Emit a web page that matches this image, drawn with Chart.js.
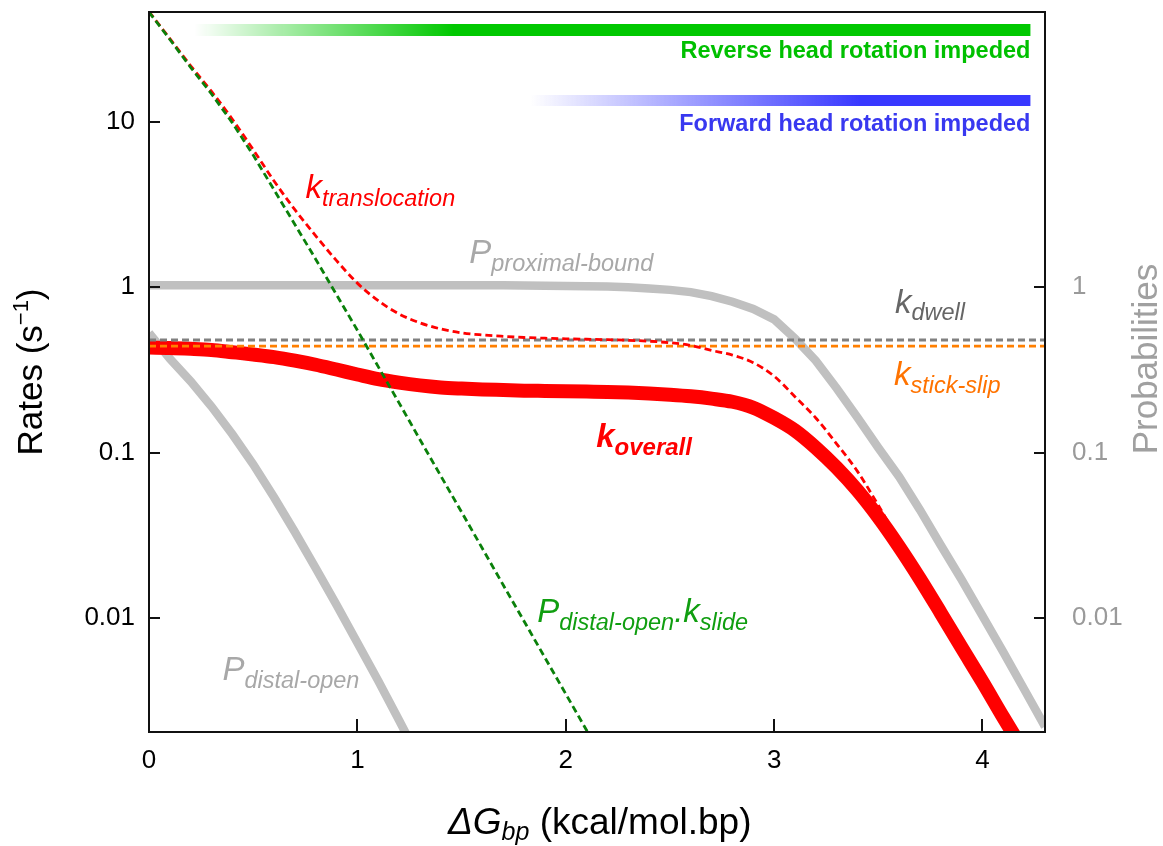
<!DOCTYPE html>
<html>
<head>
<meta charset="utf-8">
<script src="https://cdn.jsdelivr.net/npm/chart.js@4.4.1/dist/chart.umd.min.js"></script>
<style>
  html, body { margin: 0; padding: 0; background: #fff; }
  #wrap { width: 1163px; height: 846px; }
</style>
</head>
<body>
<div id="wrap"><canvas id="chart" width="1163" height="846"></canvas></div>
<script>
// x values: ΔG_bp (kcal/mol.bp)
const dG = [0, 0.1, 0.2, 0.3, 0.4, 0.5, 0.6, 0.7, 0.8, 0.9,
  1.0, 1.1, 1.2, 1.3, 1.4, 1.5, 1.6, 1.7, 1.8, 1.9,
  2.0, 2.1, 2.2, 2.3, 2.4, 2.5, 2.6, 2.7, 2.8, 2.9,
  3.0, 3.1, 3.2, 3.3, 3.4, 3.5, 3.6, 3.7, 3.8, 3.9,
  4.0, 4.1, 4.2, 4.3];

// rates (s^-1)
const kOverall = [0.432, 0.43, 0.425, 0.418, 0.405, 0.392, 0.378, 0.36, 0.34, 0.318,
  0.297, 0.278, 0.265, 0.255, 0.248, 0.244, 0.241, 0.239, 0.237, 0.236,
  0.235, 0.234, 0.233, 0.231, 0.228, 0.224, 0.219, 0.212, 0.203, 0.187,
  0.162, 0.136, 0.107, 0.081, 0.0589, 0.0407, 0.0269, 0.0172, 0.0107, 0.0066,
  0.0041, 0.0025, 0.00155, 0.00095];

const kTranslocation = [46.5, 32.0, 21.9, 15.3, 10.4, 6.8, 4.4, 2.95, 2.05, 1.45,
  1.06, 0.83, 0.69, 0.61, 0.56, 0.53, 0.515, 0.505, 0.497, 0.492,
  0.488, 0.485, 0.482, 0.478, 0.472, 0.462, 0.445, 0.415, 0.389, 0.35,
  0.29, 0.218, 0.162, 0.113, 0.077, 0.048, 0.029, 0.0178, 0.0109, 0.0067,
  0.0041, 0.0025, 0.00155, 0.00095];

// P_distal-open * k_slide, from 0 to 2.2
const pDistalKSlide = [46.2, 31.6, 21.4, 14.8, 9.89, 6.31, 3.89, 2.40, 1.48, 0.902,
  0.550, 0.331, 0.200, 0.120, 0.0724, 0.0437, 0.0263, 0.0158, 0.00955, 0.00575,
  0.00347, 0.00209, 0.00126];

const kDwellX = [0, 4.3];
const kDwell = [0.48, 0.48];
const kStickSlip = [0.441, 0.441];

// probabilities
const pProximalBound = [1.03, 1.03, 1.03, 1.03, 1.03, 1.03, 1.03, 1.03, 1.03, 1.03,
  1.03, 1.03, 1.03, 1.03, 1.03, 1.03, 1.03, 1.028, 1.025, 1.022,
  1.02, 1.015, 1.01, 1.0, 0.985, 0.965, 0.935, 0.885, 0.818, 0.74,
  0.64, 0.49, 0.36, 0.245, 0.163, 0.107, 0.0715, 0.045, 0.0275, 0.017,
  0.0103, 0.0062, 0.0037, 0.0022];

// P_distal-open, from 0 to 1.3
const pDistalOpen = [0.53, 0.37, 0.27, 0.19, 0.129, 0.085, 0.0537, 0.0331, 0.0200, 0.0120,
  0.00708, 0.00417, 0.0024, 0.00138];

const xTicks = [0, 1, 2, 3, 4];
const yTicks = [10, 1, 0.1, 0.01];
const y2Ticks = [1, 0.1, 0.01];
const yRange = [0.00204, 46.3];

// top bars: [fade start, full colour, end] in ΔG units
const reverseBar = [0.22, 1.46, 4.23];
const forwardBar = [1.83, 3.41, 4.23];

const FF = '"Liberation Sans", Arial, Helvetica, sans-serif';

const pts = (ys, xs = dG) => ys.map((y, i) => ({ x: xs[i], y }));

// text labels placed in data coordinates
const labels = [
  { x: 0.751, y: 3.47, parts: [['k', 'italic 33px', '#ff0000', 0], ['translocation', 'italic 23.5px', '#ff0000', 8]] },
  { x: 1.537, y: 1.403, parts: [['P', 'italic 33px', '#a8a8a8', 0], ['proximal-bound', 'italic 23.5px', '#a8a8a8', 8]] },
  { x: 3.58, y: 0.70, parts: [['k', 'italic 33px', '#666666', 0], ['dwell', 'italic 23.5px', '#666666', 7]] },
  { x: 3.575, y: 0.2564, parts: [['k', 'italic 33px', '#ff7300', 0], ['stick-slip', 'italic 23.5px', '#ff7300', 8]] },
  { x: 2.146, y: 0.108, parts: [['k', 'italic bold 33px', '#ff0000', 0], ['overall', 'italic bold 24px', '#ff0000', 8]] },
  { x: 1.863, y: 0.00944, parts: [['P', 'italic 33px', '#109e10', 0], ['distal-open', 'italic 23.5px', '#109e10', 8],
      ['.', 'italic 33px', '#109e10', 0], ['k', 'italic 33px', '#109e10', 0], ['slide', 'italic 23.5px', '#109e10', 8]] },
  { x: 0.3525, y: 0.00422, parts: [['P', 'italic 33px', '#a8a8a8', 0], ['distal-open', 'italic 23.5px', '#a8a8a8', 8]] }
];

function drawParts(ctx, x, y, parts) {
  let cx = x;
  for (const [t, f, c, dy] of parts) {
    ctx.font = f + ' ' + FF;
    ctx.fillStyle = c;
    ctx.fillText(t, cx, y + dy);
    cx += ctx.measureText(t).width;
  }
  return cx - x;
}

const decor = {
  id: 'decor',
  afterDraw(chart) {
    const ctx = chart.ctx;
    const a = chart.chartArea;
    const sx = chart.scales.x, sy = chart.scales.y, sy2 = chart.scales.y2;
    ctx.save();

    // gradient bars
    function bar(def, rgb, y0, h) {
      const x0 = sx.getPixelForValue(def[0]);
      const x1 = sx.getPixelForValue(def[1]);
      const x2 = sx.getPixelForValue(def[2]);
      const g = ctx.createLinearGradient(x0, 0, x1, 0);
      g.addColorStop(0, 'rgba(' + rgb + ',0)');
      g.addColorStop(1, 'rgba(' + rgb + ',1)');
      ctx.fillStyle = g;
      ctx.fillRect(x0, y0, x2 - x0, h);
      return x2;
    }
    const gEnd = bar(reverseBar, '0,200,0', a.top + 12, 12);
    const bEnd = bar(forwardBar, '56,56,255', a.top + 83, 11);
    ctx.textAlign = 'right';
    ctx.textBaseline = 'alphabetic';
    ctx.font = 'bold 23.5px ' + FF;
    ctx.fillStyle = '#00c000';
    ctx.fillText('Reverse head rotation impeded', gEnd, a.top + 46);
    ctx.fillStyle = '#3838f0';
    ctx.fillText('Forward head rotation impeded', bEnd, a.top + 119);

    // curve labels
    ctx.textAlign = 'left';
    for (const l of labels) {
      drawParts(ctx, sx.getPixelForValue(l.x), sy.getPixelForValue(l.y), l.parts);
    }

    // frame and inward ticks
    ctx.strokeStyle = '#111';
    ctx.lineWidth = 2;
    ctx.strokeRect(a.left, a.top, a.right - a.left, a.bottom - a.top);
    ctx.beginPath();
    for (const v of yTicks) {
      const p = Math.round(sy.getPixelForValue(v));
      ctx.moveTo(a.left, p); ctx.lineTo(a.left + 11, p);
    }
    for (const v of y2Ticks) {
      const p = Math.round(sy2.getPixelForValue(v));
      ctx.moveTo(a.right, p); ctx.lineTo(a.right - 11, p);
    }
    for (const v of xTicks) {
      if (v === 0) continue;
      const p = Math.round(sx.getPixelForValue(v));
      ctx.moveTo(p, a.bottom); ctx.lineTo(p, a.bottom - 13);
    }
    ctx.stroke();

    // axis titles
    ctx.save();
    ctx.translate(42, (a.top + a.bottom) / 2);
    ctx.rotate(-Math.PI / 2);
    ctx.font = '35px ' + FF;
    const w1 = ctx.measureText('Rates (s').width;
    ctx.font = '22px ' + FF;
    const w2 = ctx.measureText('\u22121').width;
    ctx.font = '35px ' + FF;
    const w3 = ctx.measureText(')').width;
    let cx = -(w1 + w2 + w3) / 2;
    ctx.fillStyle = '#000';
    ctx.fillText('Rates (s', cx, 0);
    cx += w1;
    ctx.font = '22px ' + FF;
    ctx.fillText('\u22121', cx, -14);
    cx += w2;
    ctx.font = '35px ' + FF;
    ctx.fillText(')', cx, 0);
    ctx.restore();

    ctx.save();
    ctx.translate(1157, (a.top + a.bottom) / 2 - 13);
    ctx.rotate(-Math.PI / 2);
    ctx.font = '35px ' + FF;
    ctx.fillStyle = '#a0a0a0';
    ctx.textAlign = 'center';
    ctx.fillText('Probabilities', 0, 0);
    ctx.restore();

    drawParts(ctx, 448, 834, [['\u0394G', 'italic 37px', '#000', 0], ['bp', 'italic 25px', '#000', 6],
      [' (kcal/mol.bp)', '37px', '#000', 0]]);

    ctx.restore();
  }
};

const tickFont = { family: FF, size: 26 };

new Chart(document.getElementById('chart'), {
  type: 'line',
  data: {
    datasets: [
      { label: 'P_distal-open k_slide', data: pts(pDistalKSlide), borderColor: '#0a800a', borderWidth: 2.8, borderDash: [7, 4], order: 0 },
      { label: 'k_translocation', data: pts(kTranslocation), borderColor: '#ff0000', borderWidth: 2.8, borderDash: [7, 4],
        cubicInterpolationMode: 'monotone', order: 1 },
      { label: 'k_dwell', data: pts(kDwell, kDwellX), borderColor: '#808080', borderWidth: 2.8, borderDash: [7, 4], order: 2 },
      { label: 'k_stick-slip', data: pts(kStickSlip, kDwellX), borderColor: '#ff7f00', borderWidth: 2.8, borderDash: [7, 4], order: 3 },
      { label: 'k_overall', data: pts(kOverall), borderColor: '#ff0000', borderWidth: 14, borderJoinStyle: 'round',
        cubicInterpolationMode: 'monotone', order: 4 },
      { label: 'P_proximal-bound', data: pts(pProximalBound), yAxisID: 'y2', borderColor: '#c0c0c0', borderWidth: 8.5, order: 5 },
      { label: 'P_distal-open', data: pts(pDistalOpen), yAxisID: 'y2', borderColor: '#c0c0c0', borderWidth: 8.5, order: 6 }
    ]
  },
  options: {
    responsive: false,
    animation: false,
    layout: { padding: { top: 12, left: 0, right: 0, bottom: 0 } },
    plugins: { legend: { display: false }, tooltip: { enabled: false } },
    elements: { point: { radius: 0 }, line: { tension: 0, fill: false } },
    datasets: { line: { clip: 0 } },
    scales: {
      x: {
        type: 'linear', min: 0, max: 4.3,
        grid: { display: false, drawTicks: false }, border: { display: false },
        afterBuildTicks: s => { s.ticks = xTicks.map(v => ({ value: v })); },
        afterFit: s => { s.height = 114; s.paddingLeft = 0; s.paddingRight = 0; },
        ticks: { font: tickFont, color: '#000', padding: 13, maxRotation: 0, autoSkip: false, callback: v => String(v) }
      },
      y: {
        type: 'logarithmic', position: 'left', min: yRange[0], max: yRange[1],
        grid: { display: false, drawTicks: false }, border: { display: false },
        afterBuildTicks: s => { s.ticks = yTicks.map(v => ({ value: v })); },
        afterFit: s => { s.width = 149; s.paddingTop = 0; s.paddingBottom = 0; },
        ticks: { font: tickFont, color: '#000', padding: 14, autoSkip: false, callback: v => String(v) }
      },
      y2: {
        type: 'logarithmic', position: 'right', min: yRange[0], max: yRange[1],
        grid: { display: false, drawTicks: false }, border: { display: false },
        afterBuildTicks: s => { s.ticks = y2Ticks.map(v => ({ value: v })); },
        afterFit: s => { s.width = 118; s.paddingTop = 0; s.paddingBottom = 0; },
        ticks: { font: tickFont, color: '#9a9a9a', padding: 27, autoSkip: false, callback: v => String(v) }
      }
    }
  },
  plugins: [decor]
});
</script>
</body>
</html>
